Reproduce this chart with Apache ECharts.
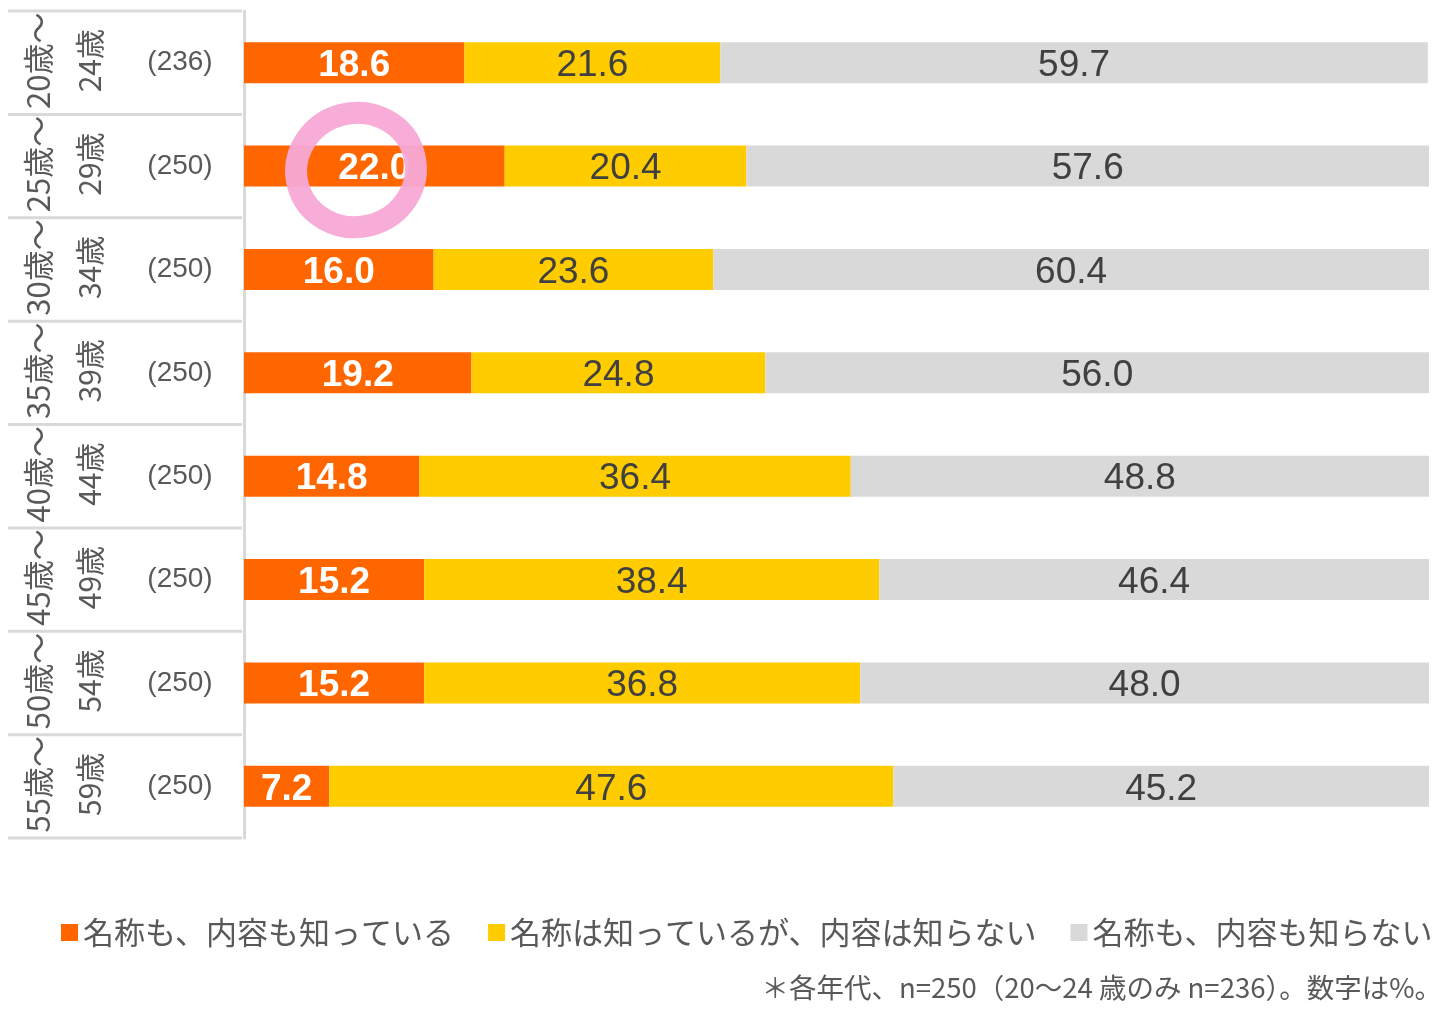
<!DOCTYPE html>
<html lang="ja">
<head>
<meta charset="UTF-8">
<title>認知度</title>
<script src="https://cdn.jsdelivr.net/npm/echarts@6/dist/echarts.min.js"></script>
<style>
    html, body { margin: 0; padding: 0; background: #fff; }
    #chart { width: 1446px; height: 1009px; }
</style>
</head>
<body>
<div id="chart"></div>
<script>
    // 年代（上段・下段）とサンプル数
    const ageFrom = ['20歳～', '25歳～', '30歳～', '35歳～', '40歳～', '45歳～', '50歳～', '55歳～'];
    const ageTo = ['24歳', '29歳', '34歳', '39歳', '44歳', '49歳', '54歳', '59歳'];
    const sampleN = ['(236)', '(250)', '(250)', '(250)', '(250)', '(250)', '(250)', '(250)'];
    const categories = ageFrom.map((a, i) => a + ageTo[i]);

    // 回答の割合（%）
    const knowBoth = [18.6, 22.0, 16.0, 19.2, 14.8, 15.2, 15.2, 7.2];
    const nameOnly = [21.6, 20.4, 23.6, 24.8, 36.4, 38.4, 36.8, 47.6];
    const knowNone = [59.7, 57.6, 60.4, 56.0, 48.8, 46.4, 48.0, 45.2];

    const seriesNames = ['名称も、内容も知っている', '名称は知っているが、内容は知らない', '名称も、内容も知らない'];
    const note = '＊各年代、n=250（20～24 歳のみ n=236）。数字は%。';

    const font = '"Liberation Sans", Arial, "Noto Sans CJK JP", sans-serif';
    const jpFont = '"Noto Sans CJK JP", sans-serif';
    const grey = '#595959';

    let chart = echarts.init(document.getElementById('chart'));

    function makeSeries(name, data, color, labelColor, bold) {
        return {
            name: name,
            type: 'bar',
            stack: 'total',
            barWidth: 41,
            data: data,
            itemStyle: { color: color },
            label: {
                show: true,
                position: 'inside',
                offset: [0, 3],
                fontFamily: font,
                fontSize: 37,
                fontWeight: bold ? 'bold' : 'normal',
                color: labelColor,
                formatter: p => p.value.toFixed(1)
            },
            emphasis: { disabled: true }
        };
    }

    chart.setOption({
        animation: false,
        grid: { left: 244, right: 17, top: 11, bottom: 171 },
        xAxis: { type: 'value', min: 0, max: 100, show: false },
        yAxis: {
            type: 'category',
            data: categories,
            inverse: true,
            axisTick: { show: false },
            axisLabel: { show: false },
            axisLine: { lineStyle: { color: '#d9d9d9', width: 3 } }
        },
        legend: {
            left: 56,
            top: 912,
            icon: 'rect',
            itemWidth: 17,
            itemHeight: 17,
            itemGap: 34,
            textStyle: { fontFamily: jpFont, fontSize: 31, color: grey },
            data: seriesNames
        },
        series: [
            makeSeries(seriesNames[0], knowBoth, '#ff6600', '#ffffff', true),
            makeSeries(seriesNames[1], nameOnly, '#ffcc00', '#404040', false),
            makeSeries(seriesNames[2], knowNone, '#d9d9d9', '#404040', false)
        ]
    });

    /* 左側の表（年代・n）を軸の位置から描く */
    function drawTable() {
        let els = [];
        let y0 = chart.convertToPixel({ yAxisIndex: 0 }, categories[0]);
        let y1 = chart.convertToPixel({ yAxisIndex: 0 }, categories[1]);
        let band = y1 - y0;

        categories.forEach((c, i) => {
            let y = chart.convertToPixel({ yAxisIndex: 0 }, c);
            els.push({
                type: 'text', x: 38, y: y - 2, rotation: Math.PI / 2,
                style: { text: ageFrom[i], fontFamily: jpFont, fontSize: 31, fill: grey, align: 'center', verticalAlign: 'middle' }
            });
            els.push({
                type: 'text', x: 90, y: y - 2, rotation: Math.PI / 2,
                style: { text: ageTo[i], fontFamily: jpFont, fontSize: 30, fill: grey, align: 'center', verticalAlign: 'middle' }
            });
            els.push({
                type: 'text', x: 180, y: y,
                style: { text: sampleN[i], fontFamily: font, fontSize: 28, fill: grey, align: 'center', verticalAlign: 'middle' }
            });
        });

        for (let i = 0; i <= categories.length; i++) {
            let y = y0 - band / 2 + band * i;
            els.push({
                type: 'line', shape: { x1: 8, y1: y, x2: 242, y2: y },
                style: { stroke: '#d9d9d9', lineWidth: 3 }
            });
        }

        // 注記
        els.push({
            type: 'text', right: 4, top: 974,
            style: { text: note, fontFamily: jpFont, fontSize: 27.5, fill: grey }
        });

        // 手書きの丸（ピンク）
        els.push({
            type: 'ellipse', x: 356, y: 170, rotation: 0.25, z: 100,
            shape: { cx: 0, cy: 0, rx: 60, ry: 57 },
            style: { fill: 'none', stroke: '#f7a9d6', lineWidth: 22, opacity: 0.95 }
        });

        chart.setOption({ graphic: { elements: els } });
    }

    drawTable();
</script>
</body>
</html>
